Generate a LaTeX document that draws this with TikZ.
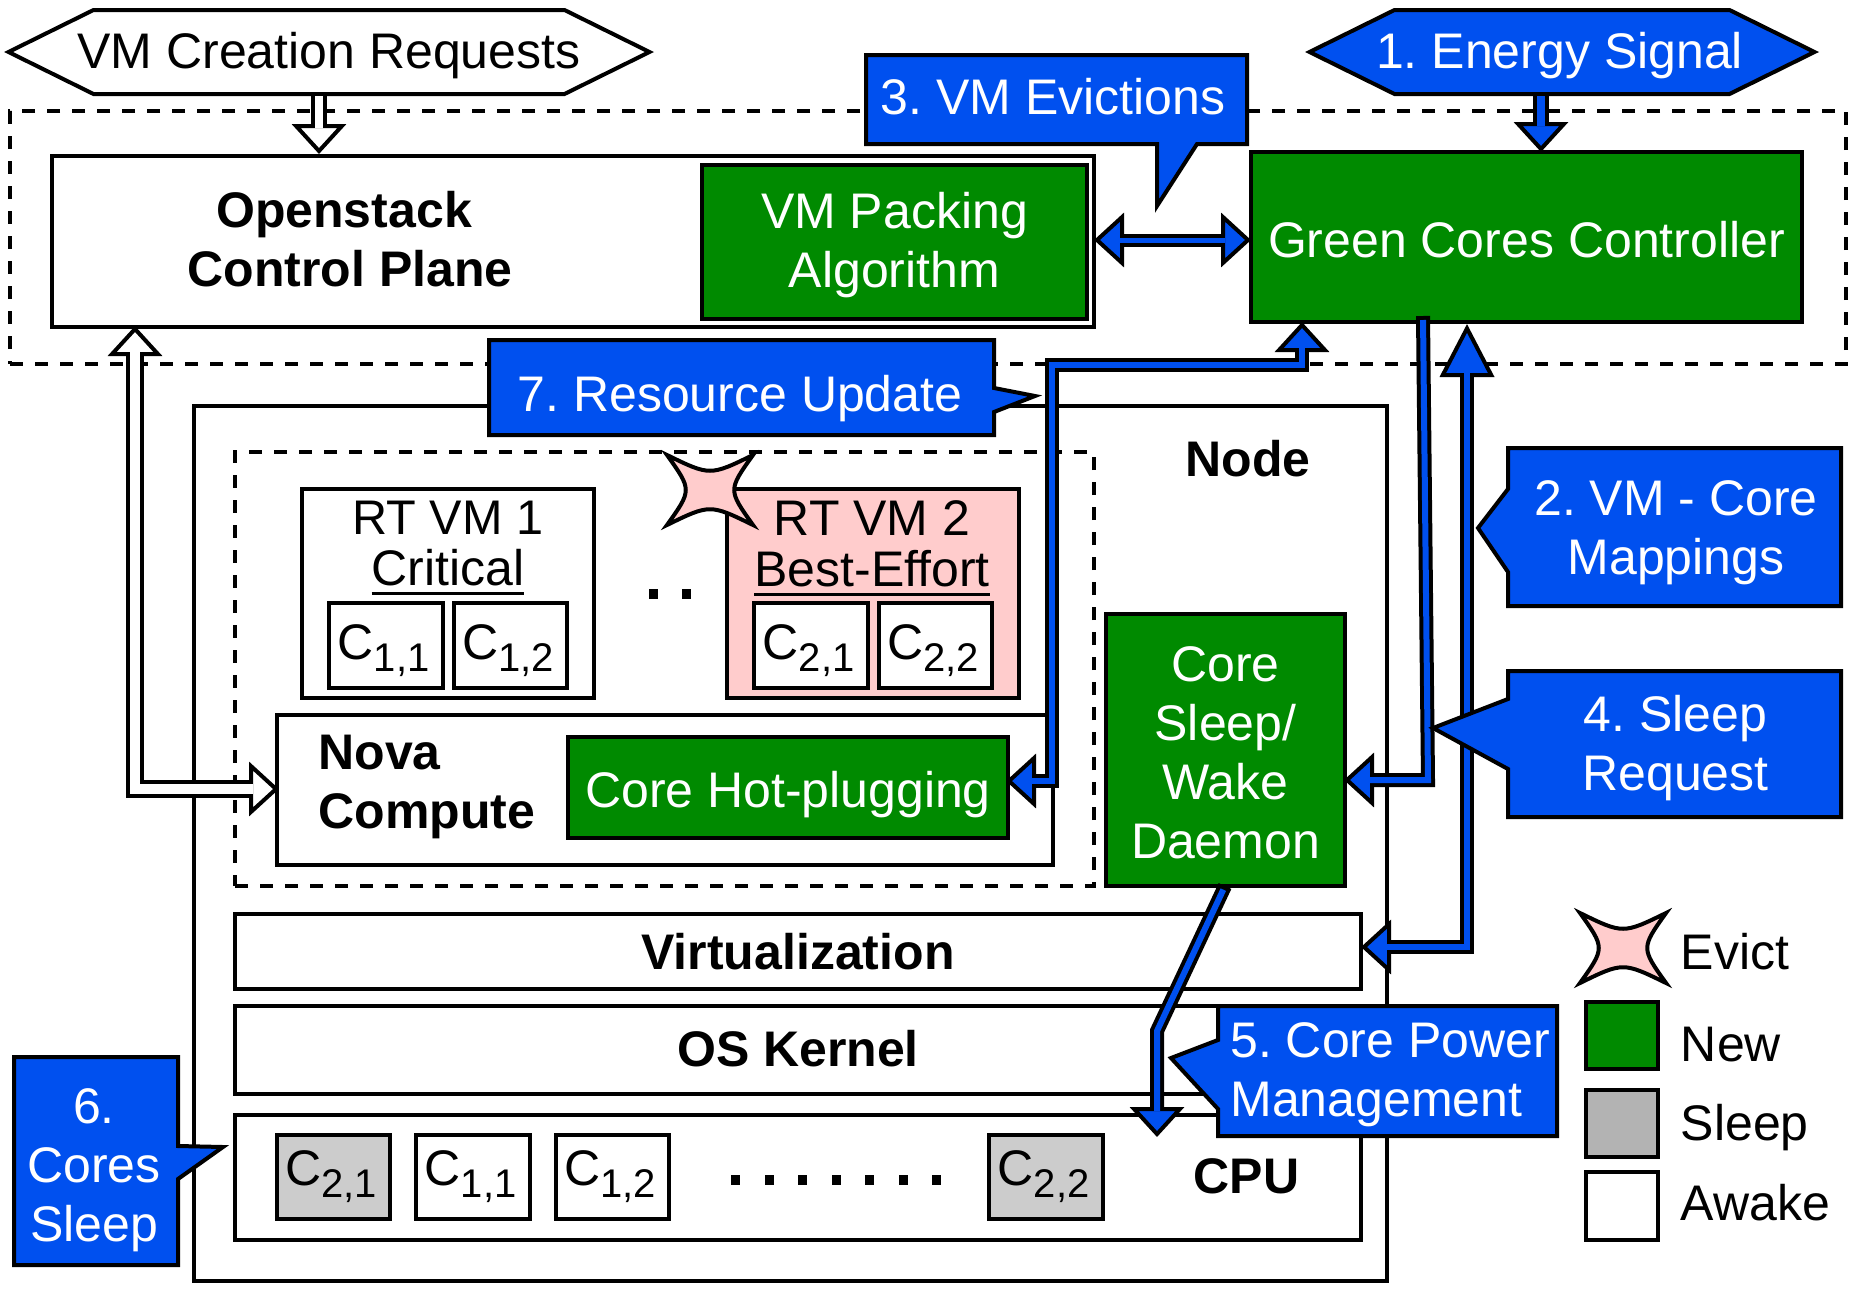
\documentclass[tikz,border=0pt]{standalone}
\usepackage{fontspec}
\setmainfont{Liberation Sans}
\frenchspacing
\usetikzlibrary{shapes.symbols, arrows.meta}

\definecolor{flowblue}{HTML}{0050EF}
\definecolor{newgreen}{HTML}{008A00}
\definecolor{evictpink}{HTML}{FFCCCC}
\definecolor{sleepgray}{HTML}{B3B3B3}
\definecolor{coregray}{HTML}{CCCCCC}

\newcommand{\corelabel}[2]{C\raisebox{-6pt}{\fontsize{20}{20}\selectfont #1,#2}\hspace*{2.4pt}}
\newcommand{\vmcore}[2]{\rule{0pt}{23pt}\corelabel{#1}{#2}}
\newcommand{\ulword}[1]{\leavevmode\setbox0\hbox{#1}\rlap{\rule[-4.5pt]{\wd0}{1.5pt}}\box0}

\tikzset{
    flowhead/.tip={Triangle[length=15pt, width=27pt, line width=2pt]},
    sized/.style 2 args={
        minimum width=#1*0.5pt,
        minimum height=#2*0.5pt
    },
    box/.style={
        rectangle,
        draw=black,
        line width=2pt,
        fill=white,
        inner sep=0pt,
        align=center,
        font=\fontsize{25}{29.5}\selectfont
    },
    boldbox/.style={
        box,
        font=\fontsize{25}{29.5}\selectfont\bfseries
    },
    greenbox/.style={
        box,
        fill=newgreen,
        text=white
    },
    hexbox/.style={
        box,
        shape=signal,
        signal to=east and west,
        signal pointer angle=52.6,
        minimum height=42pt,
        text height=22pt,
        text depth=5.6pt
    },
    zone/.style={
        rectangle,
        draw=black,
        line width=2pt,
        dash pattern=on 6.3pt off 6.2pt,
        inner sep=0pt
    },
    tag/.style={
        align=center,
        inner sep=0pt,
        font=\fontsize{25}{29.5}\selectfont
    },
    boldtag/.style={
        tag,
        font=\fontsize{25}{29.5}\selectfont\bfseries
    },
    bluetag/.style={
        tag,
        text=white
    },
    callout/.style={
        draw=black,
        line width=2pt,
        fill=flowblue
    },
    dotmark/.style={
        rectangle,
        fill=black,
        inner sep=0pt,
        minimum width=4.5pt,
        minimum height=5pt
    },
    flow/.style 2 args={
        draw=black,
        line width=#2+4pt,
        -{flowhead[fill=#1]},
        postaction={draw=#1, line width=#2, -, shorten >=13pt, shorten <=2pt}
    },
    flowboth/.style n args={3}{
        draw=black,
        line width=#2+4pt,
        {flowhead[length=#3, fill=#1]}-{flowhead[fill=#1]},
        postaction={draw=#1, line width=#2, -, shorten >=13pt, shorten <=#3-2pt}
    },
    evictstar/.pic={
        \draw[fill=evictpink, line width=2pt] (-43,-35) .. controls (0,-14) .. (43,-35)
            .. controls (18,0) .. (43,35) .. controls (0,14) .. (-43,35)
            .. controls (-18,0) .. (-43,-35) -- cycle;
    }
}

\begin{document}
\begin{tikzpicture}[x=0.5pt, y=-0.5pt]
    \useasboundingbox (0,0) rectangle (1859,1296);

    % Top signals
    \node[hexbox] (requests) at (329,52) {\makebox[235.5pt]{VM Creation Requests}};
    \node[hexbox, fill=flowblue, text=white] (energy) at (1562,52) {\makebox[167.5pt]{\hspace*{-2.4pt}1. Energy Signal}};

    % Control plane
    \node[zone, sized={1836}{253}] (control) at (928,237.5) {};
    \node[box, sized={1042}{171}] (openstack) at (573,241.5) {};
    \node[boldtag] (openstacklabel) at (350,239) {Openstack\hspace*{6pt}\\Control Plane};
    \node[greenbox, sized={385}{154}] (packing) at (894.5,242) {\rule{0pt}{20.7pt}VM Packing\\Algorithm};
    \node[greenbox, sized={551}{170}] (green) at (1526.5,237) {\rule{0pt}{20.6pt}Green Cores Controller};

    % Node
    \node[box, sized={1193}{875}] (node) at (790.5,843.5) {};
    \node[boldtag] (nodelabel) at (1248,459) {Node};
    \node[zone, sized={859}{434}] (guest) at (664.5,669) {};

    % VMs
    \node[box, sized={292}{209}] (vma) at (448,593.5) {};
    \node[tag] (vmalabel) at (448,548) {\fontsize{24.3}{29.5}\selectfont RT VM 1\\[-3.9pt]\ulword{Critical}};
    \node[box, sized={114}{85}] (vmacoa) at (386,645.5) {\vmcore{1}{1}};
    \node[box, sized={113}{85}] (vmacob) at (510.5,645.5) {\vmcore{1}{2}};
    \node[box, fill=evictpink, sized={292}{209}] (vmb) at (873,593.5) {};
    \node[tag] (vmblabel) at (872,548) {RT VM 2\\[-3.9pt]\ulword{Best-Effort}};
    \node[box, sized={114}{85}] (vmbcoa) at (811,645.5) {\vmcore{2}{1}};
    \node[box, sized={113}{85}] (vmbcob) at (935.5,645.5) {\vmcore{2}{2}};
    \foreach \dotx in {653,686} \node[dotmark] (vmdot\dotx) at (\dotx,594) {};

    % Nova
    \node[box, sized={776}{150}] (nova) at (665,790) {};
    \node[boldtag, align=left, anchor=west] (novalabel) at (318,786.5) {Nova\\Compute};
    \node[greenbox, sized={440}{101}] (hotplug) at (788,787.5) {\rule{0pt}{25.2pt}Core Hot-plugging};
    \node[greenbox, sized={239}{272}] (daemon) at (1225.5,750) {\rule{0pt}{20.5pt}Core\\Sleep/\\Wake\\Daemon};

    % Layers
    \node[boldbox, sized={1126}{75}] (virt) at (798,951.5) {Virtualization};
    \node[boldbox, sized={1126}{88}] (kernel) at (798,1050) {\rule[-1.2pt]{0pt}{1pt}OS Kernel};
    \node[box, sized={1126}{125}] (cpu) at (798,1177.5) {};
    \node[boldtag] (cpulabel) at (1246.5,1176.5) {CPU};
    \node[box, fill=coregray, sized={113}{84}] (cputwoa) at (333.5,1177) {\corelabel{2}{1}};
    \node[box, sized={114}{84}] (cpuonea) at (473,1177) {\corelabel{1}{1}};
    \node[box, sized={113}{84}] (cpuoneb) at (612.5,1177) {\corelabel{1}{2}};
    \node[box, fill=coregray, sized={114}{84}] (cputwob) at (1046,1177) {\corelabel{2}{2}};
    \foreach \dotx in {735,769,802,836,869,903,936} \node[dotmark] (cpudot\dotx) at (\dotx,1180) {};

    % Connector ends
    \coordinate (reqout) at (319,92);
    \coordinate (reqin) at (319,154);
    \coordinate (energyout) at (1541,92);
    \coordinate (energyin) at (1541,152);
    \coordinate (novaup) at (135,326);
    \coordinate (novacornera) at (135,789);
    \coordinate (novain) at (279,789);
    \coordinate (packingport) at (1094,240);
    \coordinate (greenport) at (1251,240);
    \coordinate (updatetop) at (1302,322);
    \coordinate (updateelbow) at (1302,365);
    \coordinate (updatecorner) at (1052,365);
    \coordinate (updatelow) at (1052,781);
    \coordinate (updatein) at (1006,781);
    \coordinate (mapout) at (1423,316);
    \coordinate (mapcorner) at (1428,780);
    \coordinate (mapin) at (1344,780);
    \coordinate (sleeptop) at (1467,324);
    \coordinate (sleepcorner) at (1467,947);
    \coordinate (sleepin) at (1361,947);
    \coordinate (powerout) at (1225,886);
    \coordinate (powerbend) at (1157,1031);
    \coordinate (powerin) at (1157,1137);

    % Connectors
    \draw[flow={white}{4pt}] (reqout) -- (reqin);
    \draw[flow={flowblue}{4pt}] (energyout) -- (energyin);
    \draw[flowboth={white}{5.2pt}{15pt}] (novaup) -- (novacornera) -- (novain);
    \draw[flowboth={flowblue}{2.5pt}{15pt}] (packingport) -- (greenport);
    \draw[flowboth={flowblue}{3pt}{15pt}] (updatetop) -- (updateelbow) -- (updatecorner) -- (updatelow) -- (updatein);
    \draw[flow={flowblue}{3pt}] (mapout) -- (mapcorner) -- (mapin);
    \draw[flowboth={flowblue}{3pt}{26.5pt}] (sleeptop) -- (sleepcorner) -- (sleepin);
    \draw[flow={flowblue}{3pt}] (powerout) -- (powerbend) -- (powerin);

    % Evict marker
    \pic (evictvm) at (710,490) {evictstar};

    % Callouts
    \draw[callout] (866,55) -- (1247,55) -- (1247,144) -- (1197,144) -- (1157,206) -- (1157,144) -- (866,144) -- cycle;
    \node[bluetag] (evictions) at (1053,96.5) {3. VM Evictions};
    \draw[callout] (489,340) -- (994,340) -- (994,388) -- (1035,396) -- (994,412) -- (994,435) -- (489,435) -- cycle;
    \node[bluetag] (update) at (740,398.5) {7. Resource Update};
    \draw[callout] (1508,448) -- (1841,448) -- (1841,606) -- (1508,606) -- (1508,572) -- (1478,528) -- (1508,489) -- cycle;
    \node[bluetag] (mappings) at (1676,533) {2. VM - Core\\Mappings};
    \draw[callout] (1508,671) -- (1841,671) -- (1841,817) -- (1508,817) -- (1508,769) -- (1433,728) -- (1508,699) -- cycle;
    \node[bluetag] (sleepreq) at (1675.5,748) {4. Sleep\\Request};
    \draw[callout] (1218,1006) -- (1557,1006) -- (1557,1136) -- (1218,1136) -- (1218,1109) -- (1171,1058) -- (1218,1040) -- cycle;
    \node[bluetag, align=left, anchor=west] (power) at (1230,1074.5) {5. Core Power\\Management};
    \draw[callout] (14,1057) -- (178,1057) -- (178,1146) -- (223,1147) -- (178,1179) -- (178,1265) -- (14,1265) -- cycle;
    \node[bluetag] (coressleep) at (94,1170) {6.\\Cores\\Sleep};

    % Legend
    \pic (evictkey) at (1623,948) {evictstar};
    \node[tag, anchor=west] (evictlabel) at (1680.5,951.5) {Evict};
    \node[greenbox, sized={72}{67}] (newkey) at (1622,1035.5) {};
    \node[tag, anchor=west] (newlabel) at (1680.5,1044.5) {New};
    \node[box, fill=sleepgray, sized={72}{67}] (sleepkey) at (1622,1123.5) {};
    \node[tag, anchor=west] (sleeplabel) at (1680.5,1128) {Sleep};
    \node[box, sized={72}{68}] (awakekey) at (1622,1206) {};
    \node[tag, anchor=west] (awakelabel) at (1680.5,1202.5) {Awake};
\end{tikzpicture}
\end{document}
